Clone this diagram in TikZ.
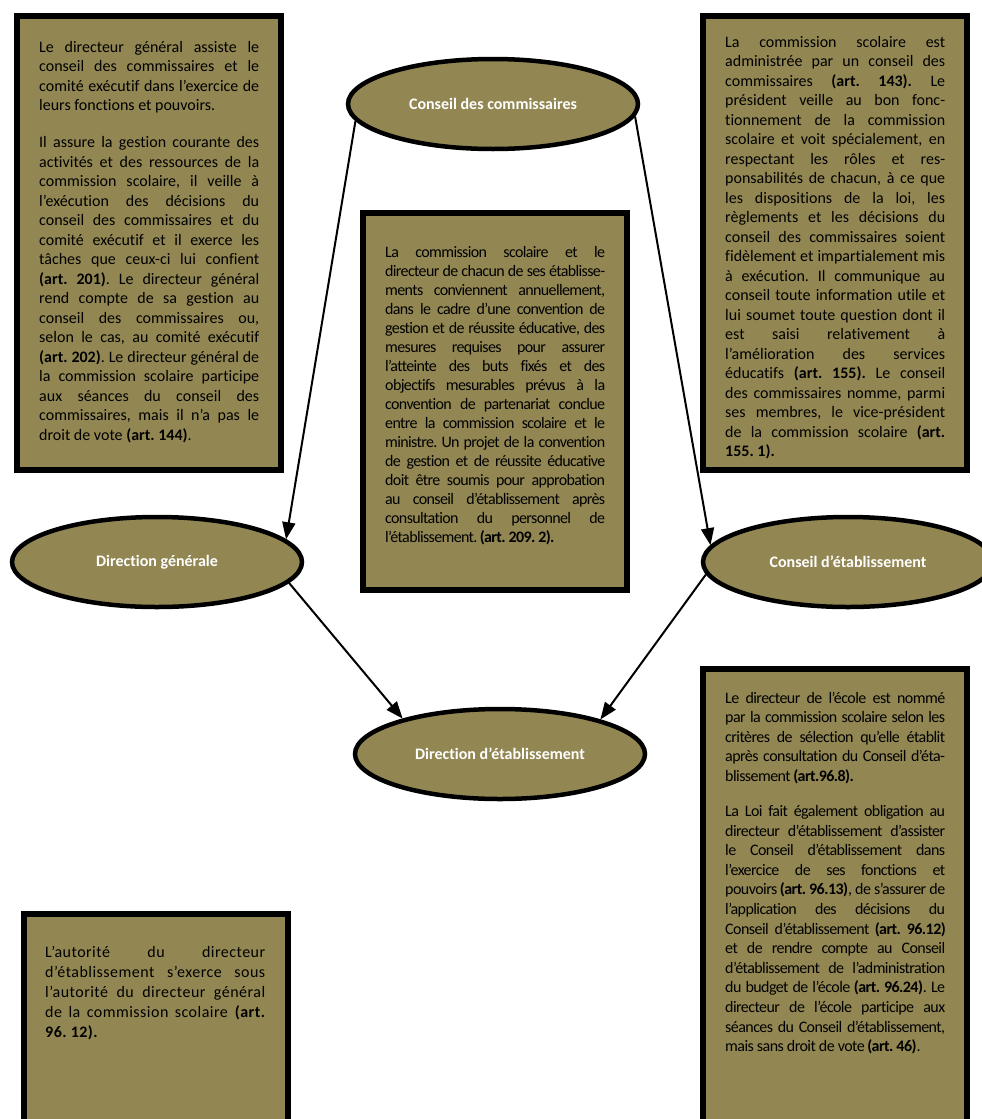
\documentclass[tikz,border=0pt]{standalone}
\usepackage{fontspec}
\setmainfont{Carlito}[Ligatures=CommonOff]
\usetikzlibrary{shapes,arrows.meta}
\definecolor{boxolive}{RGB}{146,135,83}
\frenchspacing
\tikzstyle{cadre}=[rectangle,draw=black,line width=6pt,fill=boxolive,inner sep=0pt]
\tikzstyle{organe}=[ellipse,draw=black,line width=4.5pt,fill=boxolive,minimum width=290pt,minimum height=90pt,text=white,font=\fontsize{16pt}{18pt}\selectfont\bfseries]
\tikzstyle{texte}=[anchor=base west,text width=220pt,align=justify,inner sep=0pt,font=\fontsize{16pt}{19.5pt}\selectfont]
\tikzstyle{fleche}=[-{Triangle[length=17pt,width=13pt]},line width=2pt]
\newcommand{\parsaut}[1]{\par\vspace{#1}}
\newcommand{\serre}[1]{\addfontfeature{LetterSpace=#1}}

\begin{document}
\begin{tikzpicture}[x=1pt,y=-1pt]
    \useasboundingbox (0,0) rectangle (982,1119);
    \tolerance=10000 \hyphenpenalty=10000

    \node[cadre,minimum width=264pt,minimum height=454pt] (TDG) at (149,243) {};
    \node[cadre,minimum width=264pt,minimum height=454pt] (TCC) at (835,243) {};
    \node[cadre,minimum width=264pt,minimum height=377pt] (TCONV) at (495,401.5) {};
    \node[cadre,minimum width=264pt,minimum height=458pt] (TDE) at (835,898) {};
    \node[cadre,minimum width=264pt,minimum height=213pt] (TAUT) at (156,1020.5) {};

    \node[texte] (XDG) at (39,52) {Le directeur général assiste le\linebreak conseil des commissaires et le\linebreak comité exécutif dans l’exercice de\linebreak leurs fonctions et pouvoirs.\parsaut{17.5pt}
      Il assure la gestion courante des\linebreak activités et des ressources de la\linebreak commission scolaire, il veille à\linebreak l’exécution des décisions du\linebreak conseil des commissaires et du\linebreak comité exécutif et il exerce les\linebreak tâches que ceux-ci lui confient\linebreak \textbf{(art. 201)}. Le directeur général\linebreak rend compte de sa gestion au\linebreak conseil des commissaires ou,\linebreak selon le cas, au comité exécutif\linebreak \textbf{(art. 202)}. Le directeur général de\linebreak la commission scolaire participe\linebreak aux séances du conseil des\linebreak commissaires, mais il n’a pas le\linebreak droit de vote \textbf{(art. 144)}.};
    \node[texte] (XCC) at (725,47) {La commission scolaire est\linebreak administrée par un conseil des\linebreak commissaires \textbf{(art. 143).} Le\linebreak président veille au bon fonc-\linebreak tionnement de la commission\linebreak scolaire et voit spécialement, en\linebreak respectant les rôles et res-\linebreak ponsabilités de chacun, à ce que\linebreak les dispositions de la loi, les\linebreak règlements et les décisions du\linebreak conseil des commissaires soient\linebreak fidèlement et impartialement mis\linebreak à exécution. Il communique au\linebreak conseil toute information utile et\linebreak lui soumet toute question dont il\linebreak est saisi relativement à\linebreak l’amélioration des services\linebreak éducatifs \textbf{(art. 155).} Le conseil\linebreak des commissaires nomme, parmi\linebreak ses membres, le vice-président\linebreak de la commission scolaire \textbf{(art.\linebreak 155. 1).}};
    \node[texte,font=\fontsize{16pt}{19pt}\selectfont\serre{-4}] (XCONV) at (385,257) {La commission scolaire et le\linebreak directeur de chacun de ses établisse-\linebreak ments conviennent annuellement,\linebreak dans le cadre d’une convention de\linebreak gestion et de réussite éducative, des\linebreak mesures requises pour assurer\linebreak l’atteinte des buts fixés et des\linebreak objectifs mesurables prévus à la\linebreak convention de partenariat conclue\linebreak entre la commission scolaire et le\linebreak ministre. Un projet de la convention\linebreak de gestion et de réussite éducative\linebreak doit être soumis pour approbation\linebreak au conseil d’établissement après\linebreak consultation du personnel de\linebreak l’établissement. \textbf{(art. 209. 2).}};
    \node[texte,font=\fontsize{16pt}{19.6pt}\selectfont\serre{-3.5}] (XDE) at (725,703) {Le directeur de l’école est nommé\linebreak par la commission scolaire selon les\linebreak critères de sélection qu’elle établit\linebreak après consultation du Conseil d’éta-\linebreak blissement \textbf{(art.96.8).}\parsaut{15.5pt}
      La Loi fait également obligation au\linebreak directeur d’établissement d’assister\linebreak le Conseil d’établissement dans\linebreak l’exercice de ses fonctions et\linebreak pouvoirs \textbf{(art. 96.13)}, de s’assurer de\linebreak l’application des décisions du\linebreak Conseil d’établissement \textbf{(art. 96.12)}\linebreak et de rendre compte au Conseil\linebreak d’établissement de l’administration\linebreak du budget de l’école \textbf{(art. 96.24)}. Le\linebreak directeur de l’école participe aux\linebreak séances du Conseil d’établissement,\linebreak mais sans droit de vote \textbf{(art. 46)}.};
    \node[texte,font=\fontsize{16pt}{20pt}\selectfont\serre{3}] (XAUT) at (45,957) {L’autorité du directeur\linebreak d’établissement s’exerce sous\linebreak l’autorité du directeur général\linebreak de la commission scolaire \textbf{(art.\linebreak 96. 12).}};

    \node[organe] (CC) at (493,104) {Conseil des commissaires};
    \node[organe] (DG) at (157,562) {Direction générale};
    \node[organe] (CE) at (848,562) {Conseil d’établissement};
    \node[organe] (DE) at (500,754) {Direction d’établissement};

    \draw[fleche] (CC.187) -- (DG.10);
    \draw[fleche] (CC.355) -- (CE.173);
    \draw[fleche] (DG.351) -- (DE.160);
    \draw[fleche] (CE.185) -- (DE.19);
\end{tikzpicture}
\end{document}
